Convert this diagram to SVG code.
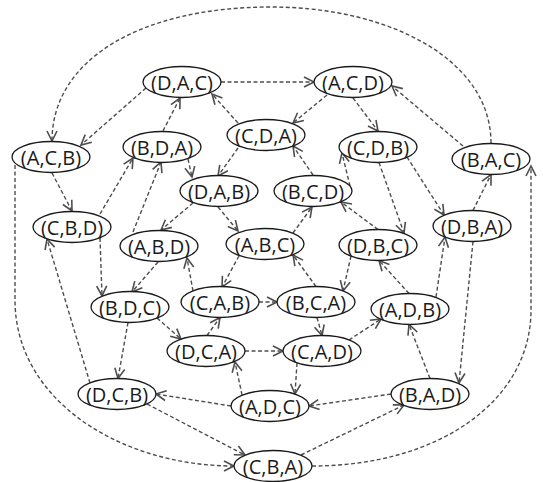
<svg xmlns="http://www.w3.org/2000/svg" width="543" height="482" viewBox="0 0 543 482">
  <style>
    .node ellipse { fill: #ffffff; stroke: #1a1a1a; stroke-width: 1.3; }
    .node text { font-family: "Open Sans", "Liberation Sans", sans-serif; font-size: 20px; fill: #1a1a1a; text-anchor: middle; }
    .edges path { fill: none; stroke: #4d4d4d; stroke-width: 1.4; stroke-dasharray: 4 2.5; marker-end: url(#arrow); }
  </style>
  <defs>
    <marker id="arrow" markerUnits="userSpaceOnUse" viewBox="-12 -7 14 14" refX="0" refY="0" markerWidth="14" markerHeight="14" orient="auto">
      <path d="M-10,-5 L0,0 L-10,5" fill="none" stroke="#4d4d4d" stroke-width="1.6" stroke-linejoin="miter"/>
    </marker>
  </defs>

  <!-- connectors -->
  <g id="edges" class="edges">
    <path d="M491,143 C491,60 390,7 271,7 C140,7 52,60 52,141"/>
    <path d="M15,165 L15,300 C15,400 120,466 234,466"/>
    <path d="M312,466 C440,466 531,400 531,310 L531,166"/>
    <path d="M221,82 L314,82"/>
    <path d="M146,88 L81,145"/>
    <path d="M163,131 L180,98"/>
    <path d="M238,123 L212,94"/>
    <path d="M327,95 L293,123"/>
    <path d="M353,98 L378,131"/>
    <path d="M463,146 L392,86"/>
    <path d="M238,148 L218,176"/>
    <path d="M313,175 L293,146"/>
    <path d="M188,159 L192,177"/>
    <path d="M100,214 L133,158"/>
    <path d="M52,173 L72,211"/>
    <path d="M133,232 L161,162"/>
    <path d="M193,203 L161,230"/>
    <path d="M218,207 L238,231"/>
    <path d="M100,238 L102,296"/>
    <path d="M90,383 L47,239"/>
    <path d="M158,262 L132,292"/>
    <path d="M193,291 L187,258"/>
    <path d="M239,256 L222,287"/>
    <path d="M293,233 L312,207"/>
    <path d="M350,186 L342,153"/>
    <path d="M378,229.5 L341,202"/>
    <path d="M379,162.5 L404,233"/>
    <path d="M407,157 L444,215"/>
    <path d="M473,210.5 L491,174.5"/>
    <path d="M351,256 L343,291"/>
    <path d="M316,286.5 L293,255"/>
    <path d="M409,293.5 L379,260.5"/>
    <path d="M436,297 L445,237"/>
    <path d="M473,241.5 L459,383"/>
    <path d="M259,302 L277,302"/>
    <path d="M157,318 L181,339"/>
    <path d="M128,322.5 L118,378.5"/>
    <path d="M207,335.5 L220,317.5"/>
    <path d="M245,351 L283,351"/>
    <path d="M317,317.5 L322,335.5"/>
    <path d="M349,340 L381,319"/>
    <path d="M242,395 L235,362"/>
    <path d="M297,363 L295,394"/>
    <path d="M231,406 L156,394"/>
    <path d="M391,394 L309,406"/>
    <path d="M430,378.5 L409,324.5"/>
    <path d="M147,404 L245,455"/>
    <path d="M301,455 L404,405"/>
  </g>

  <!-- nodes -->
  <g id="DAC" class="node"><ellipse cx="182" cy="82" rx="39" ry="15.5"/><text x="182" y="89.5">(D,A,C)</text></g>
  <g id="ACD" class="node"><ellipse cx="353" cy="82" rx="39" ry="15.5"/><text x="353" y="89.5">(A,C,D)</text></g>
  <g id="CDA" class="node"><ellipse cx="266" cy="135" rx="39" ry="15.5"/><text x="266" y="142.5">(C,D,A)</text></g>
  <g id="BDA" class="node"><ellipse cx="162" cy="147" rx="39" ry="15.5"/><text x="162" y="154.5">(B,D,A)</text></g>
  <g id="ACB" class="node"><ellipse cx="51" cy="157" rx="39" ry="15.5"/><text x="51" y="164.5">(A,C,B)</text></g>
  <g id="CDB" class="node"><ellipse cx="378" cy="147" rx="39" ry="15.5"/><text x="378" y="154.5">(C,D,B)</text></g>
  <g id="BAC" class="node"><ellipse cx="491" cy="159" rx="39" ry="15.5"/><text x="491" y="166.5">(B,A,C)</text></g>
  <g id="DAB" class="node"><ellipse cx="219" cy="191" rx="39" ry="15.5"/><text x="219" y="198.5">(D,A,B)</text></g>
  <g id="BCD" class="node"><ellipse cx="313" cy="191" rx="39" ry="15.5"/><text x="313" y="198.5">(B,C,D)</text></g>
  <g id="CBD" class="node"><ellipse cx="72" cy="227" rx="39" ry="15.5"/><text x="72" y="234.5">(C,B,D)</text></g>
  <g id="ABD" class="node"><ellipse cx="159" cy="246" rx="39" ry="15.5"/><text x="159" y="253.5">(A,B,D)</text></g>
  <g id="ABC" class="node"><ellipse cx="265" cy="244" rx="39" ry="15.5"/><text x="265" y="251.5">(A,B,C)</text></g>
  <g id="DBC" class="node"><ellipse cx="378" cy="245" rx="39" ry="15.5"/><text x="378" y="252.5">(D,B,C)</text></g>
  <g id="DBA" class="node"><ellipse cx="472" cy="226" rx="39" ry="15.5"/><text x="472" y="233.5">(D,B,A)</text></g>
  <g id="BDC" class="node"><ellipse cx="130" cy="307" rx="39" ry="15.5"/><text x="130" y="314.5">(B,D,C)</text></g>
  <g id="CAB" class="node"><ellipse cx="220" cy="302" rx="39" ry="15.5"/><text x="220" y="309.5">(C,A,B)</text></g>
  <g id="BCA" class="node"><ellipse cx="316" cy="302" rx="39" ry="15.5"/><text x="316" y="309.5">(B,C,A)</text></g>
  <g id="ADB" class="node"><ellipse cx="410" cy="309" rx="39" ry="15.5"/><text x="410" y="316.5">(A,D,B)</text></g>
  <g id="DCA" class="node"><ellipse cx="206" cy="351" rx="39" ry="15.5"/><text x="206" y="358.5">(D,C,A)</text></g>
  <g id="CAD" class="node"><ellipse cx="322" cy="351" rx="39" ry="15.5"/><text x="322" y="358.5">(C,A,D)</text></g>
  <g id="DCB" class="node"><ellipse cx="117" cy="394" rx="39" ry="15.5"/><text x="117" y="401.5">(D,C,B)</text></g>
  <g id="ADC" class="node"><ellipse cx="270" cy="406" rx="39" ry="15.5"/><text x="270" y="413.5">(A,D,C)</text></g>
  <g id="BAD" class="node"><ellipse cx="430" cy="394" rx="39" ry="15.5"/><text x="430" y="401.5">(B,A,D)</text></g>
  <g id="CBA" class="node"><ellipse cx="273" cy="466" rx="39" ry="15.5"/><text x="273" y="473.5">(C,B,A)</text></g>
</svg>
